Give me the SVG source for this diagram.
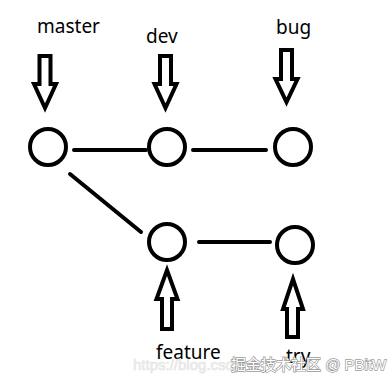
<svg xmlns="http://www.w3.org/2000/svg" width="392" height="384" viewBox="0 0 392 384">
<style>
.node{fill:#fff;stroke:#000;stroke-width:4}
.edge{stroke:#000;stroke-width:4;stroke-linecap:round;fill:none}
.arrow{fill:#fff;stroke:#000;stroke-width:4;stroke-linejoin:miter}
.lbl{font-family:"Noto Sans","Liberation Sans",sans-serif;font-size:19px;fill:#000}
.wm{font-family:"Liberation Sans","Noto Sans CJK SC",sans-serif;font-size:15px}
</style>
<rect width="392" height="384" fill="#fff"/>
<g id="connectors">
<line class="edge" x1="74" y1="150" x2="146" y2="150"/>
<line class="edge" x1="193" y1="150" x2="266" y2="150"/>
<line class="edge" x1="70" y1="174" x2="141" y2="232"/>
<line class="edge" x1="199" y1="242" x2="270" y2="242"/>
</g>
<g id="master">
<circle class="node" cx="48" cy="147" r="18"/>
<path class="arrow" d="M39.5 56 H50.5 V84 H56 L45 108 L34 84 H39.5 Z"/>
<text class="lbl" x="37" y="33">master</text>
</g>
<g id="dev">
<circle class="node" cx="167" cy="147" r="18"/>
<path class="arrow" d="M160 56 H171 V84 H176.5 L165.5 108 L154.5 84 H160 Z"/>
<text class="lbl" x="146" y="43">dev</text>
</g>
<g id="bug">
<circle class="node" cx="293" cy="147" r="18"/>
<path class="arrow" d="M281 50 H292 V79 H297.5 L286.5 102 L275.5 79 H281 Z"/>
<text class="lbl" x="276" y="34">bug</text>
</g>
<g id="feature">
<circle class="node" cx="167" cy="242" r="18"/>
<path class="arrow" d="M162 329 H172 V299 H177.5 L167 270 L156.5 299 H162 Z"/>
<text class="lbl" x="156" y="359">feature</text>
</g>
<g id="try">
<circle class="node" cx="295" cy="245" r="18"/>
<path class="arrow" d="M287 337 H298 V309 H303 L293 279 L283 309 H287 Z"/>
<text class="lbl" x="286" y="363">try</text>
</g>
<g id="watermark">
<text class="wm" x="133" y="370" fill="#f0f0f0" stroke="#e4e4e4" stroke-width="0.6">https://blog.csdn.</text>
<text class="wm" x="231" y="370" fill="#fff" stroke="#9a9a9a" stroke-width="1.4" paint-order="stroke">掘金技术社区 @ PBitW</text>
</g>
</svg>
